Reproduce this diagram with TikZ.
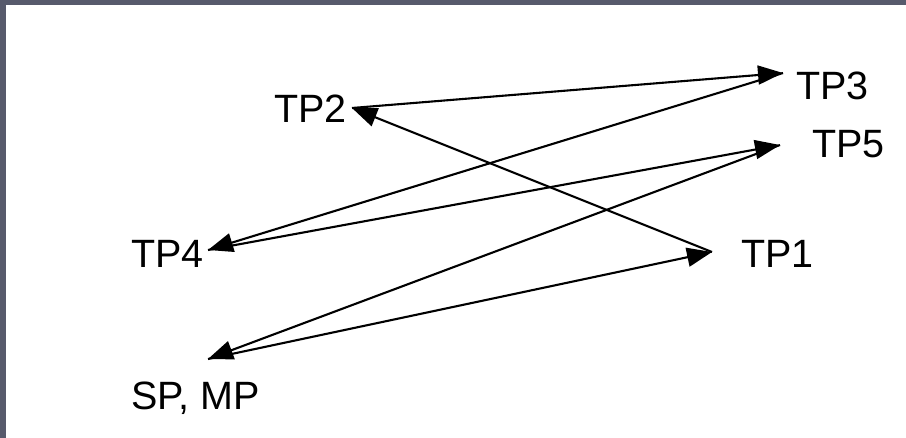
\documentclass[tikz,border=0pt]{standalone}
\usepackage{fontspec}
\setmainfont{Liberation Sans}
\usetikzlibrary{arrows.meta}
\definecolor{frame}{HTML}{575A6C}
\tikzset{
  lbl/.style={anchor=base west, inner sep=0pt, outer sep=0pt, font=\fontsize{39.5}{42}\selectfont},
  conn/.style={line width=2.1pt, -{Triangle[length=25pt,width=19pt]}}
}
\begin{document}
\begin{tikzpicture}[x=1pt,y=-1pt]
\useasboundingbox (0,0) rectangle (906,438);
\fill[frame] (0,0) rectangle (906,438);
\fill[white] (6,5) rectangle (906,438);
% labels
\node[lbl] (tp2) at (274,123) {TP2};
\node[lbl] (tp3) at (796,100) {TP3};
\node[lbl] (tp5) at (812,158) {TP5};
\node[lbl] (tp4) at (131,268) {TP4};
\node[lbl] (tp1) at (741,268) {TP1};
\node[lbl] (sp) at (131,410) {SP, MP};
% connector points
\coordinate (c2) at (352,108);
\coordinate (c3) at (783,73);
\coordinate (c5) at (780,145);
\coordinate (c4) at (208,250);
\coordinate (c1) at (712,252);
\coordinate (cs) at (208,359);
% tour
\draw[conn] (cs) -- (c1);
\draw[conn] (c1) -- (c2);
\draw[conn] (c2) -- (c3);
\draw[conn] (c3) -- (c4);
\draw[conn] (c4) -- (c5);
\draw[conn] (c5) -- (cs);
\end{tikzpicture}
\end{document}
